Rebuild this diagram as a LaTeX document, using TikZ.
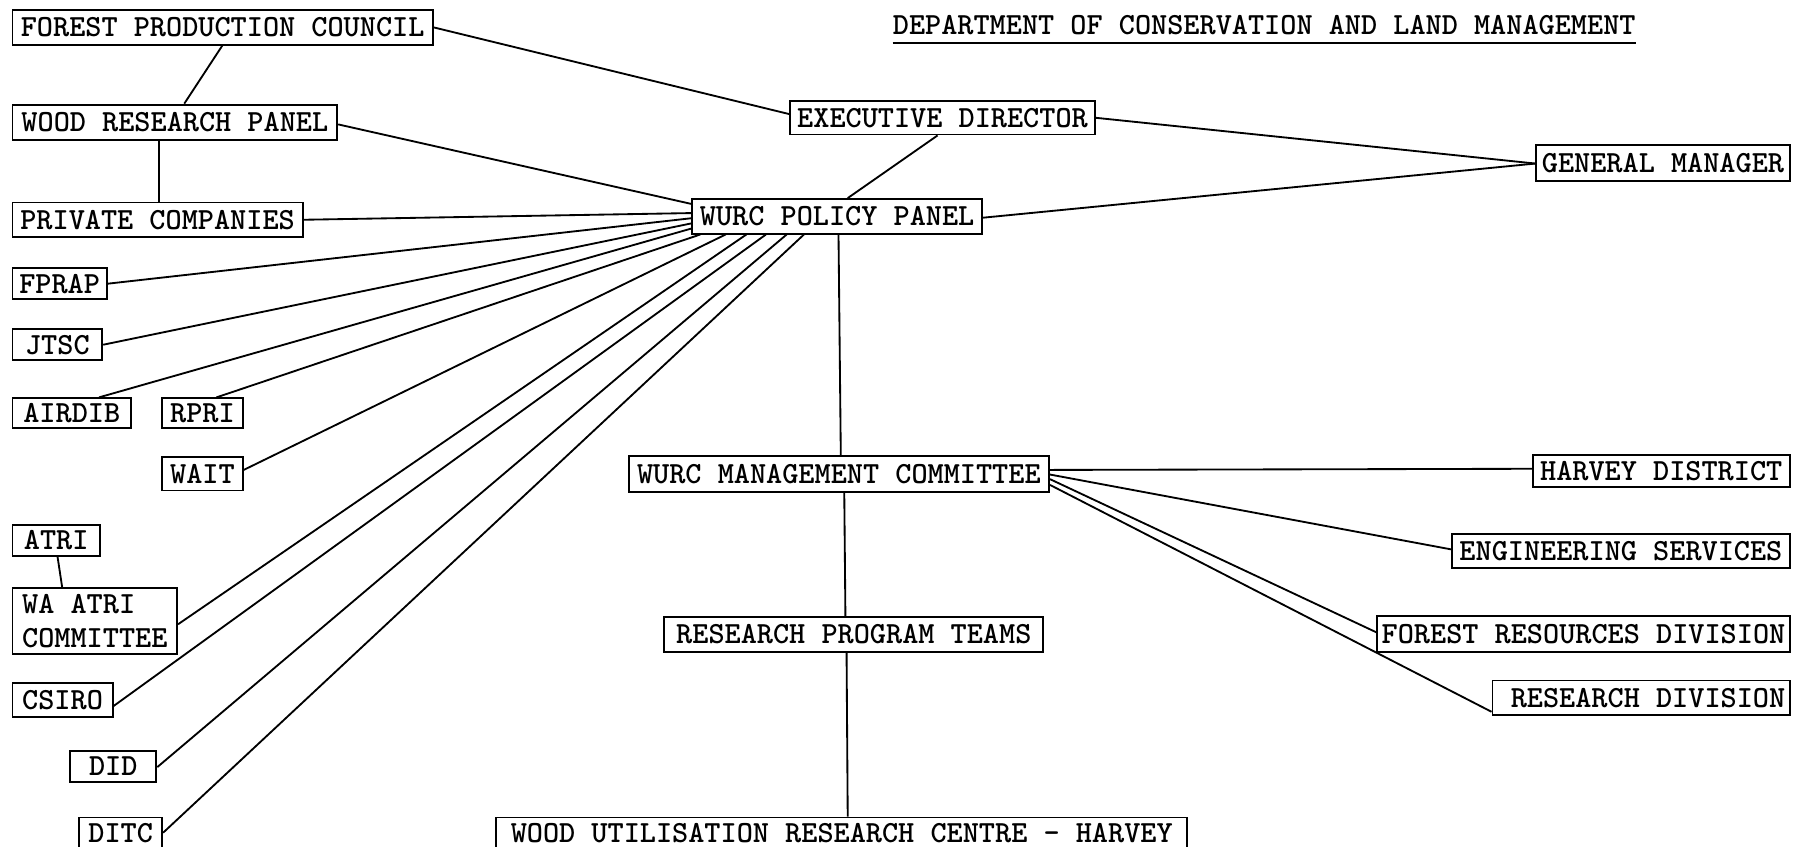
\documentclass[tikz,border=0pt]{standalone}
\usepackage{fontspec}
\usetikzlibrary{calc}
\tikzset{
  box/.style={draw, line width=1.6pt, inner sep=0pt, anchor=north west,
    font=\fontsize{26.7}{29}\selectfont\ttfamily\bfseries},
  conn/.style={line width=1.6pt},
  ttl/.style={inner sep=0pt, anchor=west, font=\fontsize{26.7}{29}\selectfont\ttfamily\bfseries}
}
\begin{document}
\begin{tikzpicture}[x=1pt,y=-1pt]
\fill[white] (0,0) rectangle (1568,735);
\useasboundingbox (0,0) rectangle (1568,735);

% title
\node[ttl] (title) at (775,22) {DEPARTMENT OF CONSERVATION AND LAND MANAGEMENT};
\coordinate (tl) at ($(title.west)+(0,15)$);
\coordinate (tr) at ($(title.east)+(0,15)$);
\draw[conn] (tl) -- (tr);

% left column
\node[box, minimum width=365pt, minimum height=30pt] (fpc) at (10,8) {FOREST PRODUCTION COUNCIL};
\node[box, minimum width=282pt, minimum height=31pt] (wrp) at (10,90) {WOOD RESEARCH PANEL};
\node[box, minimum width=252pt, minimum height=30pt] (pc) at (10,175) {PRIVATE COMPANIES};
\node[box, minimum width=82pt, minimum height=27pt] (fprap) at (10,232) {FPRAP};
\node[box, minimum width=78pt, minimum height=27pt] (jtsc) at (10,285) {JTSC};
\node[box, minimum width=103pt, minimum height=26pt] (airdib) at (10,345) {AIRDIB};
\node[box, minimum width=70pt, minimum height=26pt] (rpri) at (140,345) {RPRI};
\node[box, minimum width=70pt, minimum height=29pt] (wait) at (140,396) {WAIT};
\node[box, minimum width=76pt, minimum height=27pt] (atri) at (10,455) {ATRI};
\node[box, minimum width=143pt, minimum height=57pt, align=left] (waatri) at (10,510) {WA ATRI\\COMMITTEE};
\node[box, minimum width=87pt, minimum height=30pt] (csiro) at (10,592) {CSIRO};
\node[box, minimum width=75pt, minimum height=27pt] (did) at (60,651) {DID};
\node[box, minimum width=72pt, minimum height=27pt] (ditc) at (68,709) {DITC};

% centre
\node[box, minimum width=265pt, minimum height=29pt] (ed) at (685,87) {EXECUTIVE DIRECTOR};
\node[box, minimum width=252pt, minimum height=30pt] (pp) at (600,172) {WURC POLICY PANEL};
\node[box, minimum width=365pt, minimum height=31pt] (mc) at (545,395) {WURC MANAGEMENT COMMITTEE};
\node[box, minimum width=329pt, minimum height=30pt] (rpt) at (576,535) {RESEARCH PROGRAM TEAMS};
\node[box, minimum width=600pt, minimum height=27pt] (wurc) at (430,709) {WOOD UTILISATION RESEARCH CENTRE - HARVEY};

% right
\node[box, minimum width=220pt, minimum height=31pt] (gm) at (1333,125) {GENERAL MANAGER};
\node[box, minimum width=223pt, minimum height=28pt] (hd) at (1330,394) {HARVEY DISTRICT};
\node[box, minimum width=293pt, minimum height=29pt] (es) at (1260,463) {ENGINEERING SERVICES};
\node[box, minimum width=358pt, minimum height=31pt] (frd) at (1195,534) {FOREST RESOURCES DIVISION};
\node[box, minimum width=258pt, minimum height=30pt] (rd) at (1295,590) {\hspace*{12pt}RESEARCH DIVISION};

% connectors, upper part
\draw[conn] (fpc.east) -- ($(ed.north west)+(0,12)$);
\draw[conn] ($(fpc.south west)+(183,0)$) -- ($(wrp.north west)+(150,0)$);
\draw[conn] ($(wrp.south west)+(128,0)$) -- ($(pc.north west)+(128,0)$);
\draw[conn] ($(ed.south west)+(129,0)$) -- ($(pp.north west)+(136,0)$);
\draw[conn] (ed.east) -- ($(gm.north west)+(0,17)$);
\draw[conn] ($(pp.north east)+(0,17)$) -- ($(gm.north west)+(0,17)$);

% fan into the policy panel
\draw[conn] ($(wrp.north east)+(0,18)$) -- ($(pp.north west)+(0,5)$);
\draw[conn] (pc.east) -- ($(pp.north west)+(0,13)$);
\draw[conn] (fprap.east) -- ($(pp.north west)+(0,17.5)$);
\draw[conn] (jtsc.east) -- ($(pp.north west)+(0,22)$);
\draw[conn] ($(airdib.north west)+(76,0)$) -- ($(pp.north west)+(0,26.5)$);
\draw[conn] ($(rpri.north west)+(48,0)$) -- ($(pp.south west)+(8,0)$);
\draw[conn] ($(wait.north east)+(0,12)$) -- ($(pp.south west)+(30,0)$);
\draw[conn] ($(waatri.north east)+(0,32)$) -- ($(pp.south west)+(48,0)$);
\draw[conn] ($(csiro.north east)+(0,21)$) -- ($(pp.south west)+(65,0)$);
\draw[conn] ($(did.north east)+(0,15)$) -- ($(pp.south west)+(83,0)$);
\draw[conn] ($(ditc.north east)+(0,14)$) -- ($(pp.south west)+(98,0)$);
\draw[conn] ($(atri.south west)+(40,0)$) -- ($(waatri.north west)+(44,0)$);

% vertical chain
\draw[conn] ($(pp.south west)+(128,0)$) -- ($(mc.north west)+(185,0)$);
\draw[conn] ($(mc.south west)+(188,0)$) -- ($(rpt.north west)+(158,0)$);
\draw[conn] ($(rpt.south west)+(159,0)$) -- ($(wurc.north west)+(306,0)$);

% management committee to the right
\draw[conn] ($(mc.north east)+(0,13)$) -- ($(hd.north west)+(0,13)$);
\draw[conn] ($(mc.north east)+(0,17)$) -- ($(es.north west)+(0,14)$);
\draw[conn] ($(mc.north east)+(0,21)$) -- ($(frd.north west)+(0,15)$);
\draw[conn] ($(mc.north east)+(0,26)$) -- ($(rd.north west)+(0,28)$);
\end{tikzpicture}
\end{document}
